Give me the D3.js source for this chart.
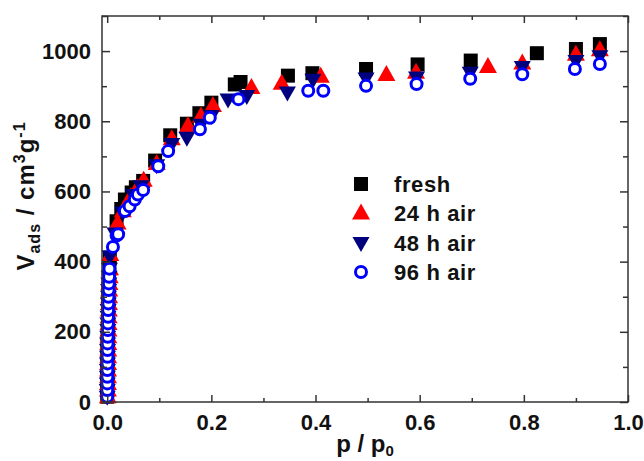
<!DOCTYPE html>
<html>
<head>
<meta charset="utf-8">
<script src="https://cdn.jsdelivr.net/npm/d3@7"></script>
<style>
  body { margin: 0; background: #fff; }
  svg { display: block; }
  text { font-family: "Liberation Sans", Arial, sans-serif; font-weight: bold; fill: #111; }
</style>
</head>
<body>
<div id="chart"></div>
<script>
// ---- data ----
// shared micropore filling stack at very low p/p0
const stackP = [0.0000, 0.0001, 0.0002, 0.0003, 0.0004, 0.0005, 0.0006, 0.0007, 0.0008, 0.0010,
                0.0012, 0.0014, 0.0016, 0.0018, 0.0021, 0.0024, 0.0027, 0.0031, 0.0036, 0.0042];
const stackV = [15, 34, 53, 72, 91, 110, 129, 148, 167, 186,
                205, 224, 243, 262, 281, 300, 319, 338, 357, 380];
const stackP24 = [0.0012, 0.0013, 0.0014, 0.0015, 0.0016, 0.0017, 0.0018, 0.0019, 0.0020, 0.0022,
                  0.0024, 0.0026, 0.0028, 0.0030, 0.0033, 0.0036, 0.0039, 0.0043, 0.0048, 0.0054];

const freshP = [0.005, 0.018, 0.027, 0.034, 0.047, 0.055, 0.069, 0.092, 0.121, 0.153, 0.177, 0.200,
                0.245, 0.256, 0.347, 0.394, 0.497, 0.596, 0.698, 0.825, 0.900, 0.946];
const freshV = [410, 515, 550, 577, 597, 612, 630, 688, 760, 793, 823, 853,
                905, 912, 930, 937, 949, 962, 973, 994, 1006, 1020];

const air24P = [0.006, 0.020, 0.030, 0.045, 0.058, 0.070, 0.095, 0.124, 0.155, 0.180, 0.203,
                0.277, 0.335, 0.410, 0.536, 0.593, 0.731, 0.797, 0.900, 0.946];
const air24V = [420, 510, 545, 585, 610, 632, 680, 750, 787, 815, 845,
                896, 908, 928, 933, 940, 956, 966, 991, 1004];

const air48P = [0.005, 0.015, 0.030, 0.050, 0.065, 0.095, 0.124, 0.153, 0.180, 0.200,
                0.232, 0.268, 0.346, 0.395, 0.497, 0.594, 0.697, 0.797, 0.900, 0.946];
const air48V = [415, 480, 540, 590, 615, 675, 735, 753, 790, 815,
                862, 872, 882, 918, 922, 925, 938, 955, 972, 985];

const air96P = [0.011, 0.018, 0.021, 0.034, 0.043, 0.053, 0.059, 0.069, 0.098, 0.117, 0.178, 0.197,
                0.252, 0.386, 0.415, 0.497, 0.594, 0.697, 0.797, 0.898, 0.946];
const air96V = [442, 474, 478, 544, 558, 577, 591, 604, 672, 715, 777, 810,
                863, 887, 887, 901, 906, 921, 934, 949, 963];

const seriesNames = ['fresh', '24 h air', '48 h air', '96 h air'];
const xMajor = [0, 0.2, 0.4, 0.6, 0.8, 1.0];
const xMinor = [0.1, 0.3, 0.5, 0.7, 0.9];
const yMajor = [0, 200, 400, 600, 800, 1000];
const yMinor = [100, 300, 500, 700, 900, 1100];

// ---- layout ----
const WIDTH = 644, HEIGHT = 461;
const MARGIN = { left: 102, right: 16, top: 16, bottom: 59 };
const AXIS_COLOR = '#333';

const zip = (ps, vs) => ps.map((p, i) => [p, vs[i]]);

const series = [
  { name: seriesNames[0], shape: 'square', fill: '#000', stroke: 'none',
    data: zip(stackP, stackV).concat(zip(freshP, freshV)) },
  { name: seriesNames[1], shape: 'up', fill: '#ff0000', stroke: 'none',
    data: zip(stackP24, stackV).concat(zip(air24P, air24V)) },
  { name: seriesNames[2], shape: 'down', fill: '#00007f', stroke: 'none',
    data: zip(stackP, stackV).concat(zip(air48P, air48V)) },
  { name: seriesNames[3], shape: 'circle', fill: '#fff', stroke: '#0000ff',
    data: zip(stackP, stackV).concat(zip(air96P, air96V)) }
];

const svg = d3.select('#chart')
  .append('svg')
  .attr('width', WIDTH)
  .attr('height', HEIGHT);

const xScale = d3.scaleLinear()
  .domain([-0.01, 1.0])
  .range([MARGIN.left, WIDTH - MARGIN.right]);

const yScale = d3.scaleLinear()
  .domain([0, 1100])
  .range([HEIGHT - MARGIN.bottom, MARGIN.top]);

// marker paths centred on 0,0
function markerPath(shape) {
  if (shape === 'square') return 'M-7,-7H7V7H-7Z';
  if (shape === 'up') return 'M0,-9.5L9,6.5L-9,6.5Z';
  if (shape === 'down') return 'M0,9L8.5,-6L-8.5,-6Z';
  return d3.arc()({ innerRadius: 0, outerRadius: 5.5, startAngle: 0, endAngle: 2 * Math.PI });
}

function drawMarkers(g, s, pts) {
  g.selectAll('path')
    .data(pts)
    .join('path')
    .attr('transform', d => `translate(${d[0]},${d[1]})`)
    .attr('d', markerPath(s.shape))
    .attr('fill', s.fill)
    .attr('stroke', s.stroke)
    .attr('stroke-width', s.shape === 'circle' ? 3 : 0);
}

// points
series.forEach(s => {
  const g = svg.append('g').attr('class', 'series');
  drawMarkers(g, s, s.data.map(d => [xScale(d[0]), yScale(d[1])]));
});

// axes
const x0 = MARGIN.left, x1 = WIDTH - MARGIN.right;
const y0 = HEIGHT - MARGIN.bottom, y1 = MARGIN.top;

function styleAxis(g) {
  g.select('.domain').remove();
  g.selectAll('line').attr('stroke', AXIS_COLOR).attr('stroke-width', 1.5);
  g.selectAll('text').attr('font-size', 22).attr('fill', '#111')
    .attr('font-family', '"Liberation Sans", Arial, sans-serif').attr('font-weight', 'bold');
}

svg.append('g')
  .attr('transform', `translate(0,${y0})`)
  .call(d3.axisBottom(xScale).tickValues(xMajor).tickSize(-7).tickSizeOuter(0)
    .tickPadding(12).tickFormat(d3.format('.1f')))
  .call(styleAxis);
svg.append('g')
  .attr('transform', `translate(0,${y0})`)
  .call(d3.axisBottom(xScale).tickValues(xMinor).tickSize(-4).tickSizeOuter(0).tickFormat(''))
  .call(styleAxis);
svg.append('g')
  .attr('transform', `translate(0,${y1})`)
  .call(d3.axisTop(xScale).tickValues(xMajor).tickSize(-7).tickSizeOuter(0).tickFormat(''))
  .call(styleAxis);
svg.append('g')
  .attr('transform', `translate(0,${y1})`)
  .call(d3.axisTop(xScale).tickValues(xMinor).tickSize(-4).tickSizeOuter(0).tickFormat(''))
  .call(styleAxis);

svg.append('g')
  .attr('transform', `translate(${x0},0)`)
  .call(d3.axisLeft(yScale).tickValues(yMajor).tickSize(-8).tickSizeOuter(0).tickPadding(11)
    .tickFormat(d3.format('d')))
  .call(styleAxis);
svg.append('g')
  .attr('transform', `translate(${x0},0)`)
  .call(d3.axisLeft(yScale).tickValues(yMinor).tickSize(-5).tickSizeOuter(0).tickFormat(''))
  .call(styleAxis);
svg.append('g')
  .attr('transform', `translate(${x1},0)`)
  .call(d3.axisRight(yScale).tickValues(yMajor).tickSize(-8).tickSizeOuter(0).tickFormat(''))
  .call(styleAxis);
svg.append('g')
  .attr('transform', `translate(${x1},0)`)
  .call(d3.axisRight(yScale).tickValues(yMinor).tickSize(-5).tickSizeOuter(0).tickFormat(''))
  .call(styleAxis);

// frame
svg.append('rect')
  .attr('x', x0).attr('y', y1)
  .attr('width', x1 - x0).attr('height', y0 - y1)
  .attr('fill', 'none')
  .attr('stroke', AXIS_COLOR)
  .attr('stroke-width', 1.5);

// axis titles
const xTitle = svg.append('text')
  .attr('x', 365).attr('y', 452)
  .attr('text-anchor', 'middle')
  .attr('font-size', 24);
xTitle.append('tspan').text('p / p');
xTitle.append('tspan').attr('font-size', 15).attr('dy', 4).text('0');

const yTitle = svg.append('text')
  .attr('transform', 'translate(34,196) rotate(-90)')
  .attr('text-anchor', 'middle')
  .attr('font-size', 24)
  .attr('letter-spacing', 1);
yTitle.append('tspan').text('V');
yTitle.append('tspan').attr('font-size', 16).attr('dy', 6).text('ads');
yTitle.append('tspan').attr('dy', -6).text(' / cm');
yTitle.append('tspan').attr('font-size', 16).attr('dy', -9).text('3');
yTitle.append('tspan').attr('dy', 9).text('g');
yTitle.append('tspan').attr('font-size', 16).attr('dy', -9).text('-1');

// legend
const legend = svg.append('g').attr('class', 'legend');
const legendY = [184, 213, 243, 272];
series.forEach((s, i) => {
  const g = legend.append('g');
  drawMarkers(g, s, [[361, legendY[i]]]);
  g.append('text')
    .attr('x', 394).attr('y', legendY[i] + 7.5)
    .attr('font-size', 22)
    .attr('letter-spacing', 0.6)
    .text(s.name);
});
</script>
</body>
</html>
